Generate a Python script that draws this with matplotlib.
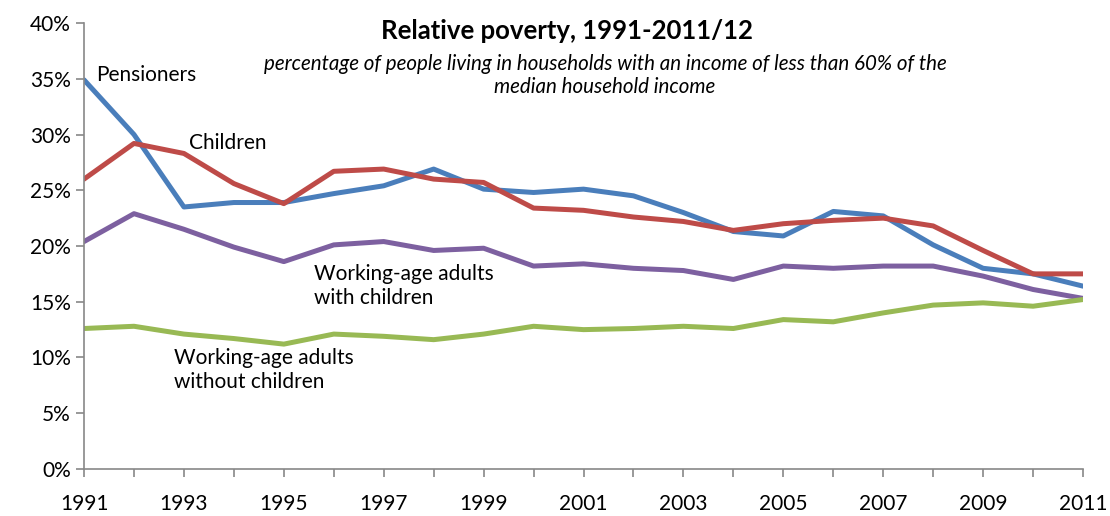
import numpy as np
import matplotlib
matplotlib.use("Agg")
import matplotlib.pyplot as plt
from matplotlib.ticker import FuncFormatter, MultipleLocator

plt.rcParams["font.family"] = ["Lato", "DejaVu Sans"]

years = list(range(1991, 2012))

pensioners = [34.9, 30.0, 23.5, 23.9, 23.9, 24.7, 25.4, 26.9, 25.1, 24.8, 25.1,
              24.5, 23.0, 21.3, 20.9, 23.1, 22.7, 20.1, 18.0, 17.5, 16.4]
children = [26.0, 29.2, 28.3, 25.6, 23.8, 26.7, 26.9, 26.0, 25.7, 23.4, 23.2,
            22.6, 22.2, 21.4, 22.0, 22.3, 22.5, 21.8, 19.6, 17.5, 17.5]
adults_with = [20.4, 22.9, 21.5, 19.9, 18.6, 20.1, 20.4, 19.6, 19.8, 18.2, 18.4,
               18.0, 17.8, 17.0, 18.2, 18.0, 18.2, 18.2, 17.3, 16.1, 15.3]
adults_without = [12.6, 12.8, 12.1, 11.7, 11.2, 12.1, 11.9, 11.6, 12.1, 12.8, 12.5,
                  12.6, 12.8, 12.6, 13.4, 13.2, 14.0, 14.7, 14.9, 14.6, 15.2]

fig = plt.figure(figsize=(11.1, 5.16), dpi=100)
ax = fig.add_axes([0.0757, 0.0911, 0.9, 0.8643])

lw = 3.6
ax.plot(years, pensioners, color="#4a7ebb", lw=lw, solid_capstyle="round")
ax.plot(years, children, color="#be4b48", lw=lw, solid_capstyle="round")
ax.plot(years, adults_with, color="#7d60a0", lw=lw, solid_capstyle="round")
ax.plot(years, adults_without, color="#98b954", lw=lw, solid_capstyle="round")

ax.set_xlim(1991, 2011)
ax.set_ylim(0, 40)
ax.yaxis.set_major_locator(MultipleLocator(5))
ax.yaxis.set_major_formatter(FuncFormatter(lambda v, p: f"{v:.0f}%"))
ax.set_xticks(years)
ax.set_xticklabels([str(y) if (y - 1991) % 2 == 0 else "" for y in years])

for s in ["top", "right"]:
    ax.spines[s].set_visible(False)
for s in ["left", "bottom"]:
    ax.spines[s].set_color("#888888")
    ax.spines[s].set_linewidth(1.2)
ax.tick_params(axis="both", colors="#888888", labelcolor="black",
               labelsize=15, length=6, width=1.2, direction="out")
ax.tick_params(axis="x", pad=12)

lbl = dict(fontsize=15, color="black")
ax.text(1991.25, 35.3, "Pensioners", ha="left", va="center", **lbl)
ax.text(1993.1, 29.2, "Children", ha="left", va="center", **lbl)
ax.text(1995.6, 16.4, "Working-age adults\nwith children", ha="left",
        va="center", linespacing=1.25, **lbl)
ax.text(1992.8, 8.9, "Working-age adults\nwithout children", ha="left",
        va="center", linespacing=1.25, **lbl)

ax.text(2000.67, 39.3, "Relative poverty, 1991-2011/12", ha="center",
        va="center", fontsize=18.5, fontweight="bold")
ax.text(2001.43, 35.3, "percentage of people living in households with an income of less than 60% of the\nmedian household income",
        ha="center", va="center", fontsize=14.8, style="italic", linespacing=1.15)

fig.savefig("out.png", dpi=100)
